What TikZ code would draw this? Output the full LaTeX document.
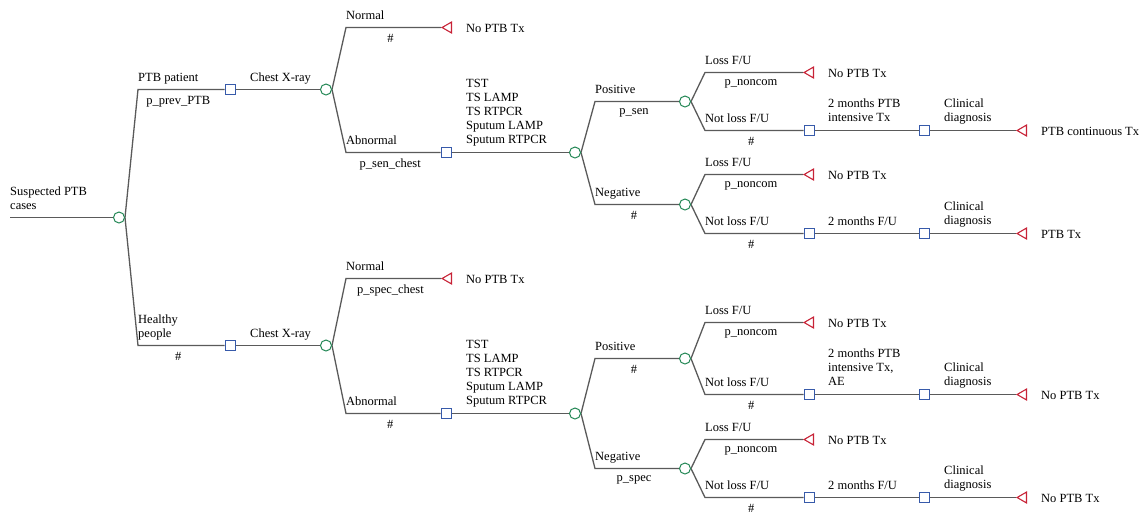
\documentclass[tikz,border=0pt]{standalone}
\usepackage{fontspec}
\setmainfont{Liberation Serif}
\usetikzlibrary{shapes.geometric,backgrounds}
\definecolor{branchgray}{RGB}{90,90,90}
\definecolor{chancegreen}{RGB}{35,135,85}
\definecolor{decblue}{RGB}{55,90,170}
\definecolor{endred}{RGB}{200,35,55}
\begin{document}
\begin{tikzpicture}[x=1pt,y=-1pt,
  chance node/.style={circle,draw=chancegreen,fill=white,line width=1pt,minimum size=11pt,inner sep=0pt},
  decision node/.style={rectangle,draw=decblue,fill=white,line width=1pt,minimum size=10pt,inner sep=0pt},
  end node/.style={regular polygon,regular polygon sides=3,shape border rotate=90,anchor=corner 1,draw=endred,fill=white,line width=1.1pt,minimum size=12.5pt,inner sep=0pt},
  branch/.style={draw=branchgray,line width=1.3pt},
  lbl/.style={font=\fontsize{12.5}{14}\selectfont,inner sep=0pt,anchor=base west,align=left},
  prob/.style={font=\fontsize{12.5}{14}\selectfont,inner sep=0pt,below=6pt,xshift=-3pt}]

  \useasboundingbox (0,-0.5) rectangle (1141,514.5);

  \coordinate (r) at (10,217);
  \node[chance node] (c0) at (119,217) {};

  \coordinate (e1) at (138,89);
  \node[decision node] (d1) at (230,89) {};
  \node[chance node] (c1) at (326,89) {};
  \coordinate (e11) at (346,27);
  \node[end node] (t11) at (441,27) {};
  \coordinate (e12) at (346,152);
  \node[decision node] (d12) at (446,152) {};
  \node[chance node] (c12) at (575,152) {};
  \coordinate (e121) at (595,101);
  \node[chance node] (c121) at (685,101) {};
  \coordinate (e1211) at (705,72);
  \node[end node] (t1211) at (803,72) {};
  \coordinate (e1212) at (705,130);
  \node[decision node] (d1212) at (809,130) {};
  \node[decision node] (d1213) at (924,130) {};
  \node[end node] (t1213) at (1016,130) {};
  \coordinate (e122) at (595,204);
  \node[chance node] (c122) at (685,204) {};
  \coordinate (e1221) at (705,174);
  \node[end node] (t1221) at (803,174) {};
  \coordinate (e1222) at (705,233);
  \node[decision node] (d1222) at (809,233) {};
  \node[decision node] (d1223) at (924,233) {};
  \node[end node] (t1223) at (1016,233) {};

  \coordinate (e2) at (138,345);
  \node[decision node] (d2) at (230,345) {};
  \node[chance node] (c2) at (326,345) {};
  \coordinate (e21) at (346,278);
  \node[end node] (t21) at (441,278) {};
  \coordinate (e22) at (346,413);
  \node[decision node] (d22) at (446,413) {};
  \node[chance node] (c22) at (575,413) {};
  \coordinate (e221) at (595,358);
  \node[chance node] (c221) at (685,358) {};
  \coordinate (e2211) at (705,322);
  \node[end node] (t2211) at (803,322) {};
  \coordinate (e2212) at (705,394);
  \node[decision node] (d2212) at (809,394) {};
  \node[decision node] (d2213) at (924,394) {};
  \node[end node] (t2213) at (1016,394) {};
  \coordinate (e222) at (595,468);
  \node[chance node] (c222) at (685,468) {};
  \coordinate (e2221) at (705,439);
  \node[end node] (t2221) at (803,439) {};
  \coordinate (e2222) at (705,497);
  \node[decision node] (d2222) at (809,497) {};
  \node[decision node] (d2223) at (924,497) {};
  \node[end node] (t2223) at (1016,497) {};

  \begin{pgfonlayer}{background}
  \draw[branch] (r) -- (c0);
  \draw[branch] (d1) -- (c1);
  \draw[branch] (d12) -- (c12);
  \draw[branch] (d1212) -- (d1213);
  \draw[branch] (d1213) -- (t1213);
  \draw[branch] (d1222) -- (d1223);
  \draw[branch] (d1223) -- (t1223);
  \draw[branch] (d2) -- (c2);
  \draw[branch] (d22) -- (c22);
  \draw[branch] (d2212) -- (d2213);
  \draw[branch] (d2213) -- (t2213);
  \draw[branch] (d2222) -- (d2223);
  \draw[branch] (d2223) -- (t2223);

  \draw[branch] (c0.east) -- (e1) -- node[prob] (q1) {p\_prev\_PTB} (d1);
  \draw[branch] (c0.east) -- (e2) -- node[prob] (q2) {\#} (d2);
  \draw[branch] (c1.east) -- (e11) -- node[prob] (q11) {\#} (t11);
  \draw[branch] (c1.east) -- (e12) -- node[prob] (q12) {p\_sen\_chest} (d12);
  \draw[branch] (c12.east) -- (e121) -- node[prob] (q121) {p\_sen} (c121);
  \draw[branch] (c12.east) -- (e122) -- node[prob] (q122) {\#} (c122);
  \draw[branch] (c121.east) -- (e1211) -- node[prob] (q1211) {p\_noncom} (t1211);
  \draw[branch] (c121.east) -- (e1212) -- node[prob] (q1212) {\#} (d1212);
  \draw[branch] (c122.east) -- (e1221) -- node[prob] (q1221) {p\_noncom} (t1221);
  \draw[branch] (c122.east) -- (e1222) -- node[prob] (q1222) {\#} (d1222);
  \draw[branch] (c2.east) -- (e21) -- node[prob] (q21) {p\_spec\_chest} (t21);
  \draw[branch] (c2.east) -- (e22) -- node[prob] (q22) {\#} (d22);
  \draw[branch] (c22.east) -- (e221) -- node[prob] (q221) {\#} (c221);
  \draw[branch] (c22.east) -- (e222) -- node[prob] (q222) {p\_spec} (c222);
  \draw[branch] (c221.east) -- (e2211) -- node[prob] (q2211) {p\_noncom} (t2211);
  \draw[branch] (c221.east) -- (e2212) -- node[prob] (q2212) {\#} (d2212);
  \draw[branch] (c222.east) -- (e2221) -- node[prob] (q2221) {p\_noncom} (t2221);
  \draw[branch] (c222.east) -- (e2222) -- node[prob] (q2222) {\#} (d2222);
  \end{pgfonlayer}

  \node[lbl] (n0) at ([yshift=8.5pt]r) {Suspected PTB\\cases};
  \node[lbl] (n1) at ([yshift=8.5pt]e1) {PTB patient};
  \node[lbl] (n2) at ([yshift=8.5pt]e2) {Healthy\\people};
  \node[lbl] (n11) at ([yshift=8.5pt]e11) {Normal};
  \node[lbl] (n12) at ([yshift=8.5pt]e12) {Abnormal};
  \node[lbl] (n21) at ([yshift=8.5pt]e21) {Normal};
  \node[lbl] (n22) at ([yshift=8.5pt]e22) {Abnormal};
  \node[lbl] (n121) at ([yshift=8.5pt]e121) {Positive};
  \node[lbl] (n122) at ([yshift=8.5pt]e122) {Negative};
  \node[lbl] (n221) at ([yshift=8.5pt]e221) {Positive};
  \node[lbl] (n222) at ([yshift=8.5pt]e222) {Negative};
  \node[lbl] (n1211) at ([yshift=8.5pt]e1211) {Loss F/U};
  \node[lbl] (n1212) at ([yshift=8.5pt]e1212) {Not loss F/U};
  \node[lbl] (n1221) at ([yshift=8.5pt]e1221) {Loss F/U};
  \node[lbl] (n1222) at ([yshift=8.5pt]e1222) {Not loss F/U};
  \node[lbl] (n2211) at ([yshift=8.5pt]e2211) {Loss F/U};
  \node[lbl] (n2212) at ([yshift=8.5pt]e2212) {Not loss F/U};
  \node[lbl] (n2221) at ([yshift=8.5pt]e2221) {Loss F/U};
  \node[lbl] (n2222) at ([yshift=8.5pt]e2222) {Not loss F/U};

  \node[lbl] (m1) at ([xshift=20pt,yshift=8.5pt]d1) {Chest X-ray};
  \node[lbl] (m2) at ([xshift=20pt,yshift=8.5pt]d2) {Chest X-ray};
  \node[lbl] (m12) at ([xshift=20pt,yshift=9pt]d12) {TST\\TS LAMP\\TS RTPCR\\Sputum LAMP\\Sputum RTPCR};
  \node[lbl] (m22) at ([xshift=20pt,yshift=9pt]d22) {TST\\TS LAMP\\TS RTPCR\\Sputum LAMP\\Sputum RTPCR};
  \node[lbl] (m1212) at ([xshift=19pt,yshift=9pt]d1212) {2 months PTB\\intensive Tx};
  \node[lbl] (m1222) at ([xshift=19pt,yshift=8.5pt]d1222) {2 months F/U};
  \node[lbl] (m2212) at ([xshift=19pt,yshift=9.5pt]d2212) {2 months PTB\\intensive Tx,\\AE};
  \node[lbl] (m2222) at ([xshift=19pt,yshift=8.5pt]d2222) {2 months F/U};
  \node[lbl] (m1213) at ([xshift=20pt,yshift=9pt]d1213) {Clinical\\diagnosis};
  \node[lbl] (m1223) at ([xshift=20pt,yshift=9pt]d1223) {Clinical\\diagnosis};
  \node[lbl] (m2213) at ([xshift=20pt,yshift=9.5pt]d2213) {Clinical\\diagnosis};
  \node[lbl] (m2223) at ([xshift=20pt,yshift=9pt]d2223) {Clinical\\diagnosis};

  \node[lbl] (o11) at ([xshift=25pt,yshift=-5pt]t11.corner 1) {No PTB Tx};
  \node[lbl] (o1211) at ([xshift=25pt,yshift=-5pt]t1211.corner 1) {No PTB Tx};
  \node[lbl] (o1213) at ([xshift=25pt,yshift=-5pt]t1213.corner 1) {PTB continuous Tx};
  \node[lbl] (o1221) at ([xshift=25pt,yshift=-5pt]t1221.corner 1) {No PTB Tx};
  \node[lbl] (o1223) at ([xshift=25pt,yshift=-5pt]t1223.corner 1) {PTB Tx};
  \node[lbl] (o21) at ([xshift=25pt,yshift=-5pt]t21.corner 1) {No PTB Tx};
  \node[lbl] (o2211) at ([xshift=25pt,yshift=-5pt]t2211.corner 1) {No PTB Tx};
  \node[lbl] (o2213) at ([xshift=25pt,yshift=-5pt]t2213.corner 1) {No PTB Tx};
  \node[lbl] (o2221) at ([xshift=25pt,yshift=-5pt]t2221.corner 1) {No PTB Tx};
  \node[lbl] (o2223) at ([xshift=25pt,yshift=-5pt]t2223.corner 1) {No PTB Tx};
\end{tikzpicture}
\end{document}
